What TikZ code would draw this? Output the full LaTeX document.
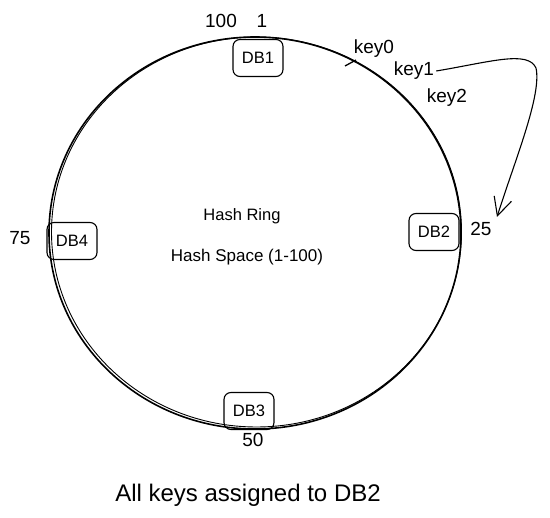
\documentclass[tikz,border=0pt]{standalone}
\usepackage{fontspec}
\setmainfont{Liberation Sans}
\usetikzlibrary{arrows.meta}
\begin{document}
\begin{tikzpicture}[x=1pt,y=-1pt,
  dbbox/.style={draw,line width=1.1pt,rounded corners=7pt,minimum width=50pt,minimum height=37pt,inner sep=0pt,font=\fontsize{16.5}{18}\selectfont},
  lbl/.style={inner sep=0pt,font=\fontsize{19}{22}\selectfont},
  ring/.style={line width=1.6pt},
  conn/.style={line width=1.1pt,-{Straight Barb[length=18pt,width=18pt,line width=1.1pt]}}]
\useasboundingbox (0,0) rectangle (550,518);
% ring
\draw[ring] (255,233) ellipse [x radius=206, y radius=196];
\draw[line width=0.9pt] (256.5,232) ellipse [x radius=205, y radius=195];
\coordinate (t1) at (345,66);
\coordinate (t2) at (356,60);
\draw[line width=1.3pt] (t1) -- (t2);
% servers
\node[dbbox] (db1) at (258,58) {DB1};
\node[dbbox] (db2) at (434,232) {DB2};
\node[dbbox] (db4) at (72,241) {DB4};
\node[dbbox] (db3) at (249,411) {DB3};
% position labels
\node[lbl] (p100) at (221,21) {100};
\node[lbl] (p1) at (262,21) {1};
\node[lbl] (p25) at (481,229) {25};
\node[lbl] (p75) at (20,238) {75};
\node[lbl] (p50) at (253,440) {50};
% keys
\node[lbl] (k0) at (374,49) {key0};
\node[lbl] (k1) at (414,71) {key1};
\node[lbl] (k2) at (447,98) {key2};
% center text
\node[inner sep=0pt,font=\fontsize{16.5}{19}\selectfont] (hr) at (242,216) {Hash Ring};
\node[inner sep=0pt,font=\fontsize{17}{20}\selectfont] (hs) at (247,257) {Hash Space (1-100)};
\node[inner sep=0pt,font=\fontsize{24}{28}\selectfont] (cap) at (248,495) {All keys assigned to DB2};
% arrow
\coordinate (aend) at (497,217);
\draw[conn] ([xshift=2pt]k1.east) .. controls (490,62) and (528,50) .. (536,68)
  .. controls (542,95) and (515,160) .. (aend);
\end{tikzpicture}
\end{document}
